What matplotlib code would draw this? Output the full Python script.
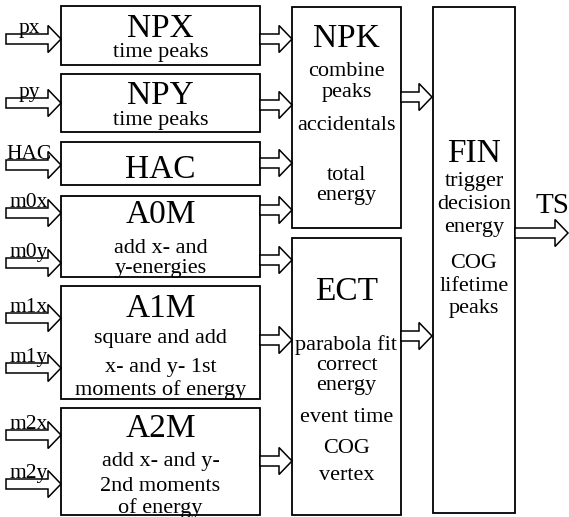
import matplotlib.pyplot as plt
from matplotlib.patches import Rectangle, Polygon

plt.rcParams['font.family'] = ['Liberation Serif', 'DejaVu Serif']

# boxes: name, (x0, y0, x1, y1) in pixels, title baseline, body lines (text, baseline)
box_names = ["NPX", "NPY", "HAC", "A0M", "A1M", "A2M", "NPK", "ECT", "FIN"]
box_rects = [
    (61, 6, 260, 65),
    (61, 74, 260, 132),
    (61, 142, 260, 185),
    (61, 196, 260, 277),
    (61, 286, 260, 399),
    (61, 408, 260, 515),
    (292, 7, 401, 228),
    (292, 238, 401, 515),
    (433, 7, 515, 513),
]
title_base = [37, 104, 178, 223, 317, 437, 47, 300, 162]
body_lines = [
    [("time peaks", 57)],
    [("time peaks", 125)],
    [],
    [("add x- and", 253), ("y-energies", 273)],
    [("square and add", 343), ("x- and y- 1st", 372), ("moments of energy", 395)],
    [("add x- and y-", 466), ("2nd moments", 491), ("of energy", 513)],
    [("combine", 76), ("peaks", 97), ("accidentals", 130), ("total", 180), ("energy", 200)],
    [("parabola fit", 350), ("correct", 370), ("energy", 390), ("event time", 422),
     ("COG", 453), ("vertex", 480)],
    [("trigger", 186), ("decision", 209), ("energy", 232), ("COG", 268),
     ("lifetime", 291), ("peaks", 313)],
]

# input signals on the left
input_labels = ["px", "py", "HAC", "m0x", "m0y", "m1x", "m1y", "m2x", "m2y"]
input_y = [39, 103, 165, 213, 263, 318, 368, 435, 484]

# arrows between blocks: (x start, x tip, y)
link_arrows = [
    (260, 292, 39), (260, 292, 105), (260, 292, 163), (260, 292, 210),
    (260, 292, 260), (260, 292, 340), (260, 292, 461),
    (401, 432, 97), (401, 432, 336),
    (515, 568, 233),
]
output_label = "TS"


def block_arrow(ax, x0, x1, y, shaft=5, head=13.5, hlen=13):
    xb = x1 - hlen
    pts = [(x0, y - shaft), (xb, y - shaft), (xb, y - head), (x1, y),
           (xb, y + head), (xb, y + shaft), (x0, y + shaft)]
    ax.add_patch(Polygon(pts, closed=True, facecolor="white",
                         edgecolor="black", lw=1.1, zorder=3))


fig = plt.figure(figsize=(5.69, 5.17), dpi=100)
ax = fig.add_axes([0, 0, 1, 1])
ax.set_xlim(0, 569)
ax.set_ylim(517, 0)
ax.axis("off")

for name, (x0, y0, x1, y1), tb, lines in zip(box_names, box_rects, title_base, body_lines):
    ax.add_patch(Rectangle((x0, y0), x1 - x0, y1 - y0, facecolor="white",
                           edgecolor="black", lw=1.3, zorder=2))
    cx = (x0 + x1) / 2
    ax.text(cx, tb, name, ha="center", va="baseline", fontsize=24, zorder=4)
    for txt, yb in lines:
        ax.text(cx, yb, txt, ha="center", va="baseline", fontsize=16, zorder=4)

for lab, y in zip(input_labels, input_y):
    block_arrow(ax, 6, 61, y)
    ax.text(29, y - 6, lab, ha="center", va="baseline", fontsize=15.5, zorder=4)

for x0, x1, y in link_arrows:
    block_arrow(ax, x0, x1, y)

ax.text(552, 213, output_label, ha="center", va="baseline", fontsize=21, zorder=4)

fig.savefig("out.png", dpi=100)
